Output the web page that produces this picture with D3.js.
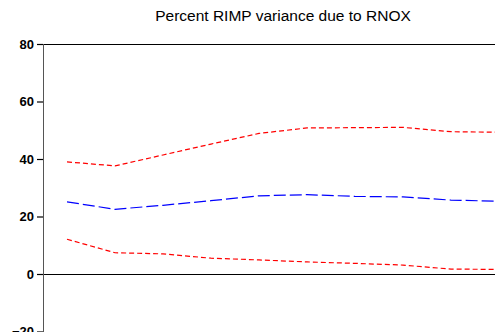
<!DOCTYPE html>
<html>
<head>
<meta charset="utf-8">
<script src="https://cdn.jsdelivr.net/npm/d3@7"></script>
<style>
  html, body { margin: 0; padding: 0; background: #fff; overflow: hidden; }
  svg { display: block; }
</style>
</head>
<body>
<svg id="chart" width="495" height="332"></svg>
<script>
// Forecast horizon (periods)
const periods = [1, 2, 3, 4, 5, 6, 7, 8, 9, 10];
// Variance decomposition estimate and its ±2 S.E. bands
const estimate = [25.1, 22.5, 23.9, 25.5, 27.2, 27.6, 27.0, 26.8, 25.7, 25.3];
const upperBand = [39.0, 37.6, 41.4, 45.2, 48.9, 50.8, 50.9, 51.0, 49.5, 49.3];
const lowerBand = [12.1, 7.4, 7.0, 5.5, 4.9, 4.2, 3.7, 3.1, 1.7, 1.6];
const yTicks = [80, 60, 40, 20, 0, -20];

const svg = d3.select("#chart");
const plotLeft = 43, plotTop = 44;

const x = d3.scaleLinear().domain([1, 10]).range([67, 499]);
const y = d3.scaleLinear().domain([-20, 80]).range([331.5, plotTop]);

// Title
svg.append("text")
  .attr("x", 283).attr("y", 21)
  .attr("text-anchor", "middle")
  .style("font-family", "Arial, 'Liberation Sans', sans-serif")
  .style("font-size", "15.5px")
  .text("Percent RIMP variance due to RNOX");

// Frame: top border and zero line
svg.append("line")
  .attr("x1", plotLeft).attr("x2", 495).attr("y1", plotTop + 0.5).attr("y2", plotTop + 0.5)
  .attr("stroke", "#000").attr("stroke-width", 1);
svg.append("line")
  .attr("x1", plotLeft).attr("x2", 495).attr("y1", Math.round(y(0)) + 0.5).attr("y2", Math.round(y(0)) + 0.5)
  .attr("stroke", "#000").attr("stroke-width", 1.2);

// Y axis
const yAxis = d3.axisLeft(y).tickValues(yTicks).tickSize(6).tickPadding(3).tickFormat(d3.format("d"));
const gy = svg.append("g").attr("transform", `translate(${plotLeft},0)`).call(yAxis);
gy.select(".domain").attr("stroke", "#555").attr("d", `M0.5,${plotTop}V332`);
gy.selectAll(".tick line").attr("stroke", "#000").attr("stroke-width", 1.2);
gy.selectAll(".tick text")
  .style("font-family", "Arial, 'Liberation Sans', sans-serif")
  .style("font-size", "13px")
  .style("font-weight", "bold")
  .attr("fill", "#000");

const line = d3.line().x((d, i) => x(periods[i])).y(d => y(d));

svg.append("path").datum(upperBand)
  .attr("d", line).attr("fill", "none")
  .attr("stroke", "#f00").attr("stroke-width", 1.2).attr("stroke-dasharray", "5,3");
svg.append("path").datum(lowerBand)
  .attr("d", line).attr("fill", "none")
  .attr("stroke", "#f00").attr("stroke-width", 1.2).attr("stroke-dasharray", "5,3");
svg.append("path").datum(estimate)
  .attr("d", line).attr("fill", "none")
  .attr("stroke", "#00f").attr("stroke-width", 1.2).attr("stroke-dasharray", "12,4");
</script>
</body>
</html>
